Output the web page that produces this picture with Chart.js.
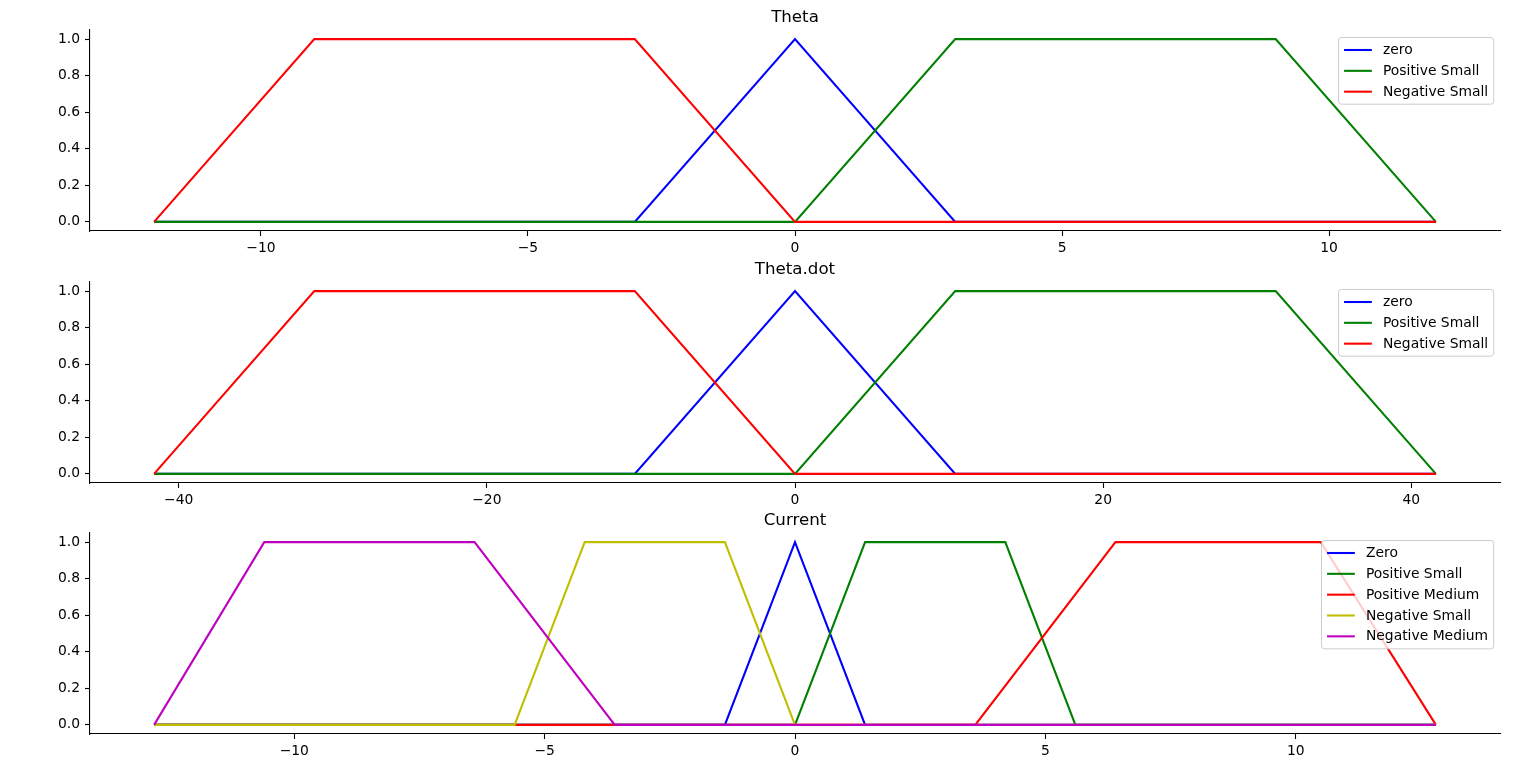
<!DOCTYPE html>
<html><head><meta charset="utf-8">
<script src="https://cdn.jsdelivr.net/npm/chart.js@4/dist/chart.umd.min.js"></script>
<style>
html,body{margin:0;padding:0;background:#fff;width:1536px;height:767px;overflow:hidden}
canvas{position:absolute;left:0}
</style></head><body>
<canvas id="c1" width="1536" height="261" style="top:0px"></canvas>
<canvas id="c2" width="1536" height="261" style="top:252px"></canvas>
<canvas id="c3" width="1536" height="261" style="top:503px"></canvas>
<script>
// ---- Data ----
const thetaX = [-12, -9, -3, 0, 3, 9, 12];
const thetaZero = [0, 0, 0, 1, 0, 0, 0];
const thetaPosSmall = [0, 0, 0, 0, 1, 1, 0];
const thetaNegSmall = [0, 1, 1, 0, 0, 0, 0];
const thetaTicksX = [-10, -5, 0, 5, 10];

const thetaDotX = [-41.6, -31.2, -10.4, 0, 10.4, 31.2, 41.6];
const thetaDotZero = [0, 0, 0, 1, 0, 0, 0];
const thetaDotPosSmall = [0, 0, 0, 0, 1, 1, 0];
const thetaDotNegSmall = [0, 1, 1, 0, 0, 0, 0];
const thetaDotTicksX = [-40, -20, 0, 20, 40];

const curZeroX = [-12.8, -1.4, 0, 1.4, 12.8];
const curZeroY = [0, 0, 1, 0, 0];
const curPosSmallX = [-12.8, 0, 1.4, 4.2, 5.6, 12.8];
const curPosSmallY = [0, 0, 1, 1, 0, 0];
const curPosMedX = [-12.8, 3.6, 6.4, 10.5, 12.8];
const curPosMedY = [0, 0, 1, 1, 0];
const curNegSmallX = [-12.8, -5.6, -4.2, -1.4, 0, 12.8];
const curNegSmallY = [0, 0, 1, 1, 0, 0];
const curNegMedX = [-12.8, -10.6, -6.4, -3.6, 12.8];
const curNegMedY = [0, 1, 1, 0, 0];
const currentTicksX = [-10, -5, 0, 5, 10];

const yTicks = [0, 0.2, 0.4, 0.6, 0.8, 1.0];

const COL = {b:'#0000ff', g:'#008000', r:'#ff0000', y:'#bfbf00', m:'#bf00bf'};
const FONT = '"DejaVu Sans", sans-serif';

function pts(xs, ys){ return xs.map((x,i)=>({x:x, y:ys[i]})); }
function fmtMinus(v, d){ const s = Math.abs(v).toFixed(d); return (v < 0 ? '\u2212' : '') + s; }

const titlePlugin = {
  id: 'mplTitle',
  afterDraw(chart, args, opts){
    const ctx = chart.ctx, ca = chart.chartArea;
    ctx.save();
    ctx.font = '16.67px ' + FONT;
    ctx.fillStyle = '#000';
    ctx.textAlign = 'center';
    ctx.textBaseline = 'alphabetic';
    ctx.fillText(opts.text, (ca.left + ca.right)/2, ca.top - 8.3);
    ctx.restore();
  }
};

const legendPlugin = {
  id: 'mplLegend',
  afterDatasetsDraw(chart){
    const ctx = chart.ctx, ca = chart.chartArea, fs = 13.89;
    const ds = chart.data.datasets;
    ctx.save();
    ctx.font = fs + 'px ' + FONT;
    const tw = Math.max(...ds.map(d => ctx.measureText(d.label).width));
    const bp = 0.4*fs, ls = 0.5*fs, hl = 2*fs, htp = 0.8*fs, bap = 0.5*fs;
    const w = 2*bp + hl + htp + tw;
    const h = 2*bp + ds.length*fs + (ds.length-1)*ls;
    const x = Math.round(ca.right - bap - w) + 0.5, y = Math.round(ca.top + bap) + 0.5;
    const r = 3;
    ctx.beginPath();
    ctx.moveTo(x + r, y);
    ctx.lineTo(x + w - r, y); ctx.arcTo(x + w, y, x + w, y + r, r);
    ctx.lineTo(x + w, y + h - r); ctx.arcTo(x + w, y + h, x + w - r, y + h, r);
    ctx.lineTo(x + r, y + h); ctx.arcTo(x, y + h, x, y + h - r, r);
    ctx.lineTo(x, y + r); ctx.arcTo(x, y, x + r, y, r);
    ctx.closePath();
    ctx.fillStyle = 'rgba(255,255,255,0.8)';
    ctx.fill();
    ctx.strokeStyle = '#cccccc';
    ctx.lineWidth = 1;
    ctx.stroke();
    ds.forEach((d, i) => {
      const cy = y + bp + i*(fs + ls) + fs/2;
      ctx.beginPath();
      ctx.moveTo(x + bp, cy); ctx.lineTo(x + bp + hl, cy);
      ctx.strokeStyle = d.borderColor; ctx.lineWidth = 2.08;
      ctx.stroke();
      ctx.fillStyle = '#000';
      ctx.textAlign = 'left'; ctx.textBaseline = 'middle';
      ctx.fillText(d.label, x + bp + hl + htp, cy + 0.5);
    });
    ctx.restore();
  }
};

function makeChart(id, title, series, xTicks){
  let xmin = Infinity, xmax = -Infinity;
  series.forEach(s => s.data.forEach(p => { xmin = Math.min(xmin, p.x); xmax = Math.max(xmax, p.x); }));
  const pad = 0.05*(xmax - xmin);
  const n = series.length;
  const datasets = series.map((s, i) => ({
    label: s.label, data: s.data, borderColor: s.color, backgroundColor: s.color,
    borderWidth: 2.08, pointRadius: 0, tension: 0, fill: false, order: n - i
  }));
  new Chart(document.getElementById(id), {
    type: 'line',
    data: { datasets },
    options: {
      responsive: false, animation: false, events: [],
      layout: { padding: { top: 30, right: 36, left: 0, bottom: 0 } },
      plugins: { legend: { display: false }, tooltip: { enabled: false }, mplTitle: { text: title } },
      scales: {
        x: {
          type: 'linear', min: xmin - pad, max: xmax + pad,
          afterBuildTicks: sc => { sc.ticks = xTicks.map(v => ({value: v})); },
          afterFit: sc => { sc.height = 30; },
          grid: { display: true, drawOnChartArea: false, drawTicks: true, tickLength: 5, tickWidth: 1.1, tickColor: '#000' },
          border: { display: true, color: '#000', width: 1.1 },
          ticks: { color: '#000', font: { family: FONT, size: 13.89 }, padding: 4, maxRotation: 0, autoSkip: false,
                   callback: v => fmtMinus(v, 0) }
        },
        y: {
          type: 'linear', min: -0.05, max: 1.05,
          afterBuildTicks: sc => { sc.ticks = yTicks.map(v => ({value: v})); },
          afterFit: sc => { sc.width = 90; },
          grid: { display: true, drawOnChartArea: false, drawTicks: true, tickLength: 5, tickWidth: 1.1, tickColor: '#000' },
          border: { display: true, color: '#000', width: 1.1 },
          ticks: { color: '#000', font: { family: FONT, size: 13.89 }, padding: 5, autoSkip: false,
                   callback: v => fmtMinus(v, 1) }
        }
      }
    },
    plugins: [titlePlugin, legendPlugin]
  });
}

makeChart('c1', 'Theta', [
  {label: 'zero', color: COL.b, data: pts(thetaX, thetaZero)},
  {label: 'Positive Small', color: COL.g, data: pts(thetaX, thetaPosSmall)},
  {label: 'Negative Small', color: COL.r, data: pts(thetaX, thetaNegSmall)}
], thetaTicksX);

makeChart('c2', 'Theta.dot', [
  {label: 'zero', color: COL.b, data: pts(thetaDotX, thetaDotZero)},
  {label: 'Positive Small', color: COL.g, data: pts(thetaDotX, thetaDotPosSmall)},
  {label: 'Negative Small', color: COL.r, data: pts(thetaDotX, thetaDotNegSmall)}
], thetaDotTicksX);

makeChart('c3', 'Current', [
  {label: 'Zero', color: COL.b, data: pts(curZeroX, curZeroY)},
  {label: 'Positive Small', color: COL.g, data: pts(curPosSmallX, curPosSmallY)},
  {label: 'Positive Medium', color: COL.r, data: pts(curPosMedX, curPosMedY)},
  {label: 'Negative Small', color: COL.y, data: pts(curNegSmallX, curNegSmallY)},
  {label: 'Negative Medium', color: COL.m, data: pts(curNegMedX, curNegMedY)}
], currentTicksX);
</script>
</body></html>
